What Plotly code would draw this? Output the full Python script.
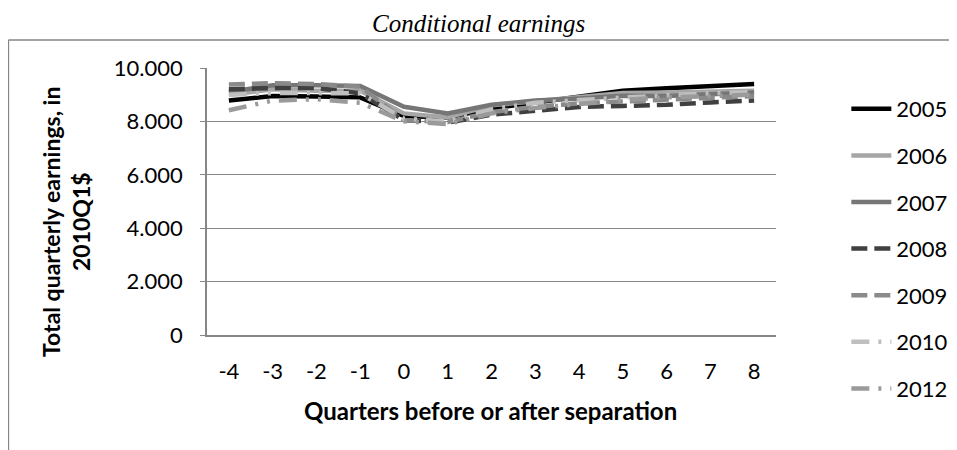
import plotly.graph_objects as go

quarters = ["-4", "-3", "-2", "-1", "0", "1", "2", "3", "4", "5", "6", "7", "8"]
y2005 = [8780, 8950, 8930, 8900, 8200, 8150, 8480, 8700, 8900, 9150, 9240, 9330, 9400]
y2006 = [9000, 9200, 9150, 9150, 8300, 8150, 8600, 8760, 8880, 9060, 9080, 9120, 9150]
y2007 = [9100, 9350, 9350, 9330, 8550, 8300, 8620, 8780, 8860, 8960, 8950, 9000, 9080]
y2008 = [9200, 9250, 9250, 9050, 8050, 7950, 8250, 8400, 8540, 8580, 8620, 8710, 8780]
y2009 = [9380, 9430, 9400, 9300, 8050, 7980, 8350, 8550, 8680, 8740, 8820, 8900, 8950]
y2010 = [9000, 9060, 9060, 9050, 8100, 8000, 8450, 8700, 8800, 8900, 8980, 9050, 9100]
y2012 = [8420, 8780, 8830, 8700, 8000, 7900, 8300, 8500, 8650, 8800, 8900, 8950, 9000]

series = [
    ("2005", y2005, "#000000", "solid"),
    ("2006", y2006, "#a6a6a6", "solid"),
    ("2007", y2007, "#767676", "solid"),
    ("2008", y2008, "#404040", "16px,7px"),
    ("2009", y2009, "#8a8a8a", "16px,7px"),
    ("2010", y2010, "#bfbfbf", "18px,9px,3px,9px,3px,9px"),
    ("2012", y2012, "#9a9a9a", "18px,9px,3px,9px,3px,9px"),
]

FONT = "Lato, 'Open Sans', sans-serif"

fig = go.Figure()
for name, ys, color, dash in series:
    fig.add_trace(go.Scatter(
        x=quarters, y=ys, name=name, mode="lines",
        line=dict(color=color, width=4.5, dash=dash),
        legendgroup=name,
    ))

OFF = 8  # default page body margin
L, R, T, B = 207 - OFF, 775.7 - OFF, 68 - OFF, 335 - OFF
W, H = 1000, 450 - OFF
pw, ph = R - L, B - T

def px_x(x):
    return (x - OFF - L) / pw

def px_y(y):
    return (B - (y - OFF)) / ph

border = dict(color="#868686", width=1.5)

fig.update_layout(
    width=W, height=H,
    margin=dict(l=L, r=W - R, t=T, b=H - B, pad=0),
    paper_bgcolor="white", plot_bgcolor="white",
    separators=",.",
    font=dict(family=FONT, size=22, color="#000000"),
    showlegend=True,
    legend=dict(
        x=px_x(846), y=px_y(88), xanchor="left", yanchor="top",
        xref="paper", yref="paper",
        font=dict(family=FONT, size=22, color="#000000"),
        itemwidth=40, tracegroupgap=15, traceorder="grouped",
        bgcolor="rgba(0,0,0,0)", maxheight=430,
    ),
    xaxis=dict(
        type="category", range=[-0.5, 12.5], showgrid=False, showline=True,
        linecolor="#868686", linewidth=1.5, ticks="",
        tickfont=dict(family=FONT, size=22), zeroline=False,
        ticklabelstandoff=16,
    ),
    yaxis=dict(
        range=[0, 10000], dtick=2000, tickformat=",d", showgrid=True,
        gridcolor="#868686", gridwidth=1, showline=True, linecolor="#868686",
        linewidth=1.5, ticks="outside", ticklen=5, tickcolor="#868686",
        tickfont=dict(family=FONT, size=22), zeroline=False, ticklabelstandoff=13,
    ),
    shapes=[
        dict(type="line", xref="paper", yref="paper",
             x0=px_x(8.5), x1=px_x(1000), y0=px_y(40), y1=px_y(40),
             line=border, layer="below"),
        dict(type="line", xref="paper", yref="paper",
             x0=px_x(8.5), x1=px_x(8.5), y0=px_y(40), y1=px_y(500),
             line=border, layer="below"),
    ],
    annotations=[
        dict(text="<i>Conditional earnings</i>", xref="paper", yref="paper",
             x=px_x(478), y=px_y(8), xanchor="center", yanchor="top",
             showarrow=False,
             font=dict(family="'Liberation Serif', serif", size=25, color="#000000")),
        dict(text="<b>Quarters before or after separation</b>", xref="paper", yref="paper",
             x=px_x(490), y=px_y(410), xanchor="center", yanchor="middle",
             showarrow=False, font=dict(family=FONT, size=24, color="#000000")),
        dict(text="<b>Total quarterly earnings, in<br>2010Q1$</b>", xref="paper", yref="paper",
             x=px_x(66), y=px_y(222), xanchor="center", yanchor="middle",
             textangle=-90, showarrow=False,
             font=dict(family=FONT, size=23, color="#000000")),
    ],
)

fig.write_html("out.html")
